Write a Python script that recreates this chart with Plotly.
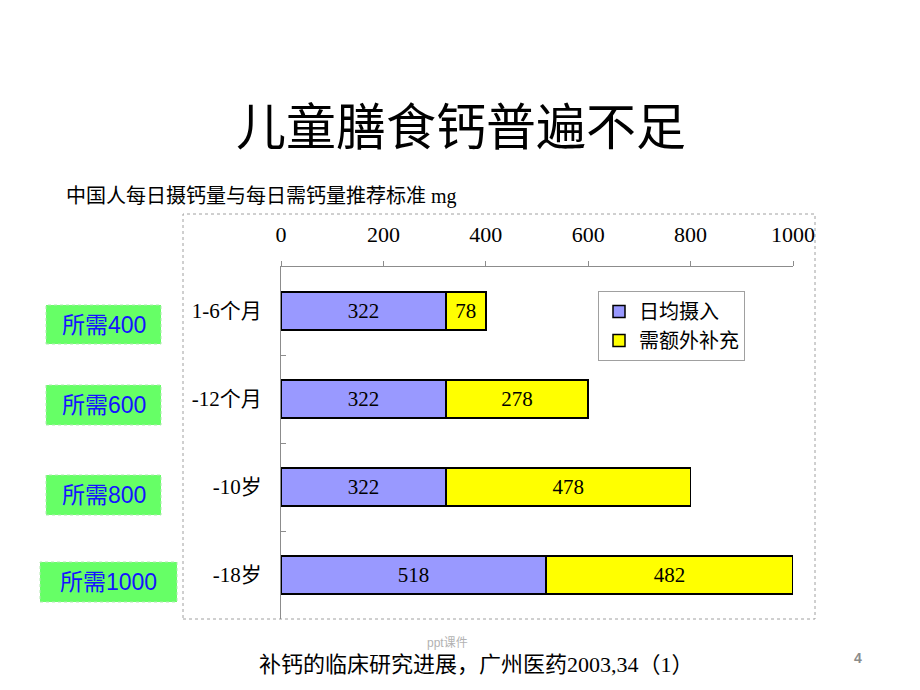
import plotly.graph_objects as go

# ---- data ----
categories = ["1-6个月", "-12个月", "-10岁", "-18岁"]
intake = [322, 322, 322, 518]          # 日均摄入
extra = [78, 278, 478, 482]            # 需额外补充
required_labels = ["所需400", "所需600", "所需800", "所需1000"]
x_ticks = [0, 200, 400, 600, 800, 1000]

# ---- layout geometry (pixels) ----
W, H = 920, 690
PL, PR, PT, PB = 281, 793, 267, 619   # plot area


def px(x):
    return (x - PL) / (PR - PL)


def py(y):
    return (PB - y) / (PB - PT)


CJK = "Noto Sans CJK SC"
SERIF_MIX = "Liberation Serif, " + CJK
SANS_MIX = "Liberation Sans, " + CJK

fig = go.Figure()
fig.add_trace(go.Bar(
    y=categories, x=intake, orientation="h", name="日均摄入",
    marker=dict(color="#9999ff", line=dict(color="#000000", width=1.5)),
    text=intake, texttemplate="%{x}", textposition="inside",
    insidetextanchor="middle", constraintext="none",
    textfont=dict(family=SERIF_MIX, size=21, color="#000000"),
))
fig.add_trace(go.Bar(
    y=categories, x=extra, orientation="h", name="需额外补充",
    marker=dict(color="#ffff00", line=dict(color="#000000", width=1.5)),
    text=extra, texttemplate="%{x}", textposition="inside",
    insidetextanchor="middle", constraintext="none",
    textfont=dict(family=SERIF_MIX, size=21, color="#000000"),
))

fig.update_layout(
    width=W, height=H,
    margin=dict(l=PL, r=W - PR, t=PT, b=H - PB, pad=0),
    paper_bgcolor="white", plot_bgcolor="white",
    barmode="stack", bargap=0.568,
    showlegend=True,
    legend=dict(
        x=px(598), y=py(291), xanchor="left", yanchor="top",
        bordercolor="#a0a0a0", borderwidth=1, bgcolor="white",
        font=dict(family=CJK, size=20, color="#000000"),
        traceorder="normal", itemwidth=30, tracegroupgap=0,
    ),
    xaxis=dict(
        side="top", range=[0, 1000], tickvals=x_ticks,
        ticktext=[str(v) for v in x_ticks],
        showgrid=False, zeroline=False, showline=True,
        linecolor="#8c8c8c", linewidth=1,
        ticks="outside", ticklen=5, tickcolor="#8c8c8c",
        tickfont=dict(family="Liberation Serif", size=22, color="#000000"),
        ticklabelstandoff=10, fixedrange=True,
    ),
    yaxis=dict(
        autorange="reversed", type="category",
        showgrid=False, zeroline=False, showline=True,
        linecolor="#8c8c8c", linewidth=1,
        ticks="inside", ticklen=5, tickcolor="#8c8c8c", tickson="boundaries",
        tickfont=dict(family=SERIF_MIX, size=21, color="#000000"),
        ticklabelstandoff=14, fixedrange=True,
    ),
)

shapes = []
annotations = []

# outer chart box
shapes.append(dict(type="rect", xref="paper", yref="paper",
                   x0=px(183), x1=px(815), y0=py(619), y1=py(214),
                   line=dict(color="#a0a0a0", width=1, dash="dot"),
                   layer="below"))

# title
annotations.append(dict(text="儿童膳食钙普遍不足", xref="paper", yref="paper",
                        x=px(461), y=py(123), xanchor="center", yanchor="middle",
                        showarrow=False,
                        font=dict(family=CJK, size=50, color="#000000")))
# subtitle
annotations.append(dict(text="中国人每日摄钙量与每日需钙量推荐标准 mg",
                        xref="paper", yref="paper",
                        x=px(64), y=py(197), xanchor="left", yanchor="middle",
                        showarrow=False,
                        font=dict(family=SERIF_MIX, size=20, color="#000000")))

# green "required" boxes
green_boxes = [(46, 305, 161, 344), (46, 385, 161, 425),
               (46, 475, 161, 515), (40, 562, 177, 602)]
for label, (x0, y0, x1, y1) in zip(required_labels, green_boxes):
    shapes.append(dict(type="rect", xref="paper", yref="paper",
                       x0=px(x0), x1=px(x1), y0=py(y1), y1=py(y0),
                       fillcolor="#66ff66",
                       line=dict(color="#b0e8b0", width=1, dash="dot")))
    annotations.append(dict(text=label, xref="paper", yref="paper",
                            x=px((x0 + x1) / 2), y=py((y0 + y1) / 2),
                            xanchor="center", yanchor="middle", showarrow=False,
                            font=dict(family=SANS_MIX, size=23, color="#1414ff")))

# source
annotations.append(dict(text="补钙的临床研究进展，广州医药2003,34（1）",
                        xref="paper", yref="paper",
                        x=px(476), y=py(664), xanchor="center", yanchor="middle",
                        showarrow=False,
                        font=dict(family=SERIF_MIX, size=22, color="#000000")))
# watermark
annotations.append(dict(text="ppt课件", xref="paper", yref="paper",
                        x=px(447), y=py(643), xanchor="center", yanchor="middle",
                        showarrow=False, opacity=0.6,
                        font=dict(family=SANS_MIX, size=12, color="#808080")))
# page number
annotations.append(dict(text="<b>4</b>", xref="paper", yref="paper",
                        x=px(858), y=py(658), xanchor="center", yanchor="middle",
                        showarrow=False,
                        font=dict(family="Liberation Sans", size=14, color="#8c8c8c")))

fig.update_layout(shapes=shapes, annotations=annotations)
fig.write_html("out.html")
